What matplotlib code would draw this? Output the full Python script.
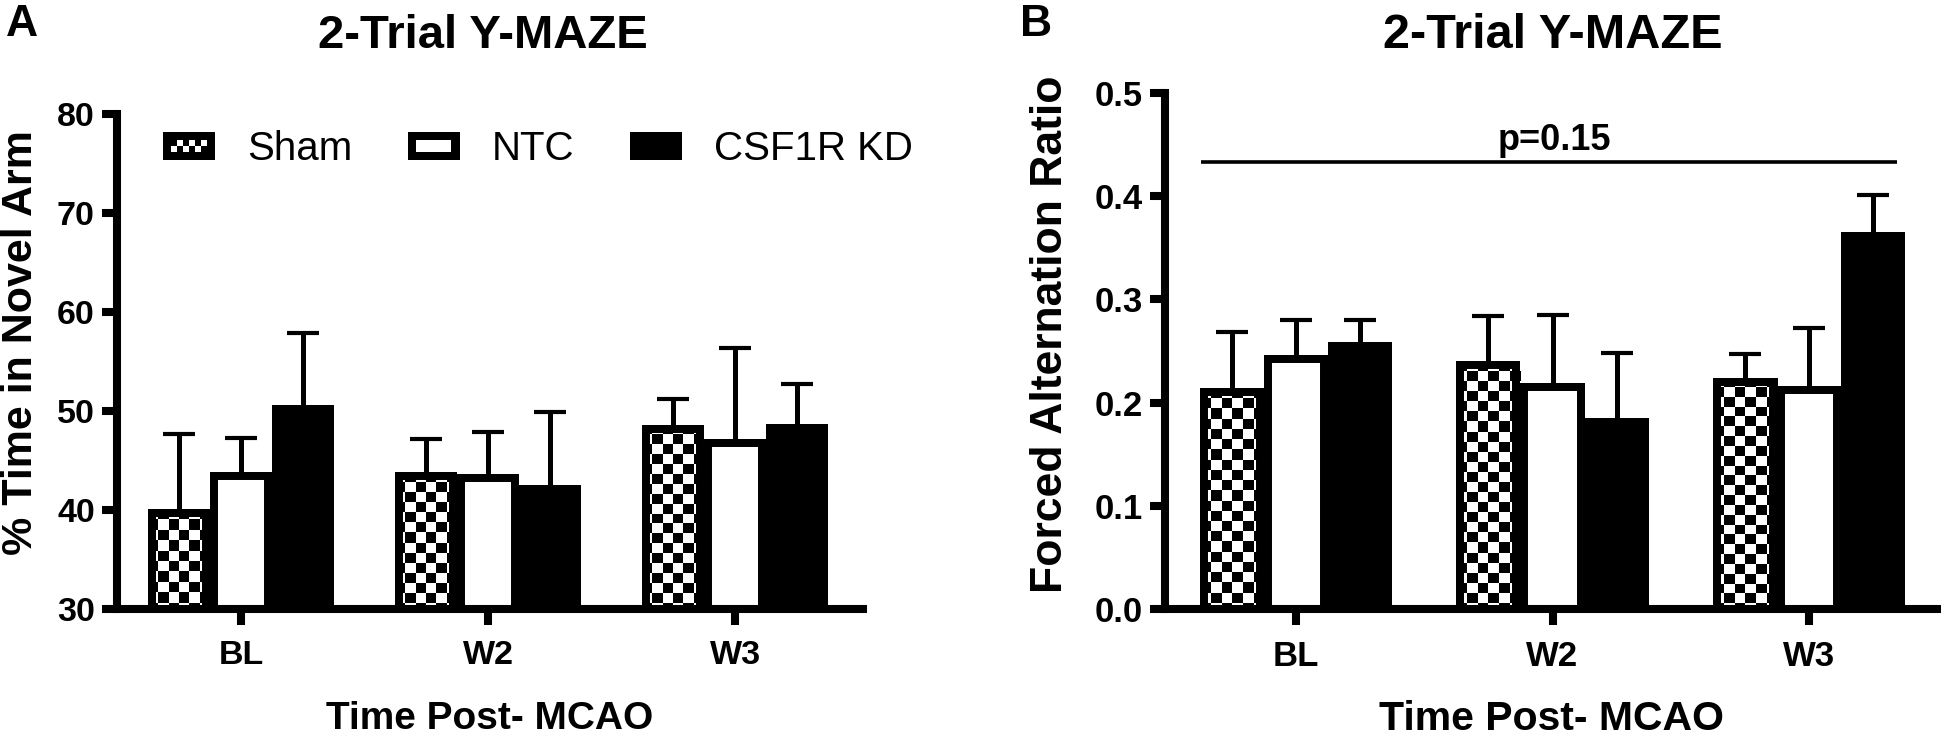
import numpy as np
import matplotlib
matplotlib.use('Agg')
import matplotlib.pyplot as plt
from matplotlib.patches import Rectangle, Patch
from matplotlib.legend_handler import HandlerBase

plt.rcParams['font.family'] = ['Liberation Sans', 'DejaVu Sans']

# ---------------- data ----------------
categories = ['BL', 'W2', 'W3']
groups = ['Sham', 'NTC', 'CSF1R KD']

a_sham = [40.1, 43.8, 48.6]
a_sham_err = [7.6, 3.4, 2.6]
a_ntc = [43.8, 43.6, 47.2]
a_ntc_err = [3.5, 4.25, 9.2]
a_csf = [50.6, 42.5, 48.7]
a_csf_err = [7.3, 7.4, 4.0]

b_sham = [0.214, 0.240, 0.224]
b_sham_err = [0.054, 0.044, 0.023]
b_ntc = [0.246, 0.219, 0.216]
b_ntc_err = [0.034, 0.066, 0.056]
b_csf = [0.259, 0.185, 0.365]
b_csf_err = [0.021, 0.063, 0.036]

a_yticks = [30, 40, 50, 60, 70, 80]
b_yticks = [0.0, 0.1, 0.2, 0.3, 0.4, 0.5]
b_pvalue_text = 'p=0.15'
b_pvalue_y = 0.433

# ---------------- layout helpers ----------------
W, H = 1941, 735
fig = plt.figure(figsize=(W / 100, H / 100), dpi=100)


def rect(l, t, r, b):
    return [l / W, 1 - b / H, (r - l) / W, (b - t) / H]


axA = fig.add_axes(rect(117, 114, 863, 609))
axB = fig.add_axes(rect(1165, 93, 1938, 609))

BW = 0.25
xs = np.arange(len(categories))


def style_axes(ax, xlim, ylim, yticks, fmt, fs):
    ax.set_xlim(*xlim)
    ax.set_ylim(*ylim)
    for s in ['top', 'right']:
        ax.spines[s].set_visible(False)
    for s in ['left', 'bottom']:
        ax.spines[s].set_linewidth(5.8)
        ax.spines[s].set_zorder(6)
        ax.spines[s].set_capstyle('projecting')
    ax.set_xticks(xs)
    ax.set_xticklabels(categories, fontsize=fs, fontweight='bold')
    ax.set_yticks(yticks)
    ax.set_yticklabels([fmt.format(v) for v in yticks], fontsize=fs, fontweight='bold')
    ax.tick_params(axis='y', direction='out', length=11, width=5.8, pad=5)
    ax.tick_params(axis='x', direction='out', length=11.5, width=5.8, pad=11)
    ax.patch.set_visible(False)


style_axes(axA, (-0.502, 2.518), (30, 80), a_yticks, '{:d}', 24.5)
style_axes(axB, (-0.511, 2.503), (0, 0.5), b_yticks, '{:.1f}', 25)


def draw_series(ax, xpos, vals, errs, kind):
    y0 = ax.get_ylim()[0]
    p0 = ax.transData.transform((0, 0))
    p1 = ax.transData.transform((1, 1))
    ppx, ppy = p1 - p0
    ext = 4 / ppy
    base = y0 - ext
    heights = np.asarray(vals) - base
    face = 'black' if kind == 'csf' else 'white'
    faces = ax.bar(xpos, heights, BW, bottom=base, color=face,
                   edgecolor='none', zorder=2)
    if kind == 'sham':
        for r, v in zip(faces.patches, vals):
            x0 = r.get_x()
            nx = max(1, int(round(BW * ppx / 10)))
            ny = max(1, int(round((v - base) * ppy / 10)))
            arr = np.indices((ny, nx)).sum(axis=0) % 2
            im = ax.imshow(arr, cmap='gray', vmin=0, vmax=1,
                           extent=(x0, x0 + BW, base, v), origin='lower',
                           interpolation='nearest', aspect='auto', zorder=2.5)
            im.set_clip_path(r)
    edges = ax.bar(xpos, heights, BW, bottom=base, fill=False,
                   edgecolor='black', linewidth=11.5, zorder=4)
    for p in edges.patches:
        p.set_clip_path(p)
    _, caps, _ = ax.errorbar(xpos, vals, yerr=[np.zeros(len(vals)), errs],
                             fmt='none', ecolor='black', elinewidth=3.6,
                             capsize=11.2, capthick=3, zorder=3)
    # one-sided (upper) error bars: hide the cap at the bar top
    if len(caps) == 2:
        caps[0].set_visible(False)


offsets = [-BW, 0, BW]
for ax, series in [
    (axA, [(a_sham, a_sham_err, 'sham'), (a_ntc, a_ntc_err, 'ntc'), (a_csf, a_csf_err, 'csf')]),
    (axB, [(b_sham, b_sham_err, 'sham'), (b_ntc, b_ntc_err, 'ntc'), (b_csf, b_csf_err, 'csf')]),
]:
    for off, (v, e, k) in zip(offsets, series):
        draw_series(ax, xs + off, v, e, k)

axA.set_xlim(-0.502, 2.518); axA.set_ylim(30, 80)
axB.set_xlim(-0.511, 2.503); axB.set_ylim(0, 0.5)

# p-value line on panel B
pl_left = xs[0] - 1.5 * BW + 0.005
pl_right = xs[-1] + 1.5 * BW - 0.03
axB.plot([pl_left, pl_right], [b_pvalue_y, b_pvalue_y], color='black',
         lw=2.6, solid_capstyle='butt', zorder=5)
axB.annotate(b_pvalue_text, xy=((pl_left + pl_right) / 2 + 0.02, b_pvalue_y),
             xytext=(0, 9), textcoords='offset points', ha='center',
             va='baseline', fontsize=26, fontweight='bold')

# axis labels
axA.set_ylabel('% Time in Novel Arm', fontsize=31, fontweight='bold')
axA.yaxis.set_label_coords(-0.102, 0.538)
axB.set_ylabel('Forced Alternation Ratio', fontsize=32, fontweight='bold')
axB.yaxis.set_label_coords(-0.1216, 0.533)
axA.set_xlabel('Time Post- MCAO', fontsize=28, fontweight='bold')
axA.xaxis.set_label_coords(0.5, -(701 - 609) / 495)
axB.set_xlabel('Time Post- MCAO', fontsize=29.5, fontweight='bold')
axB.xaxis.set_label_coords(0.5, -(700 - 609) / 516)

# titles and panel letters
fig.text(483 / W, 1 - 48 / H, '2-Trial Y-MAZE', ha='center', va='baseline',
         fontsize=34, fontweight='bold')
fig.text(1553 / W, 1 - 48 / H, '2-Trial Y-MAZE', ha='center', va='baseline',
         fontsize=35, fontweight='bold')
fig.text(6 / W, 1 - 36 / H, 'A', ha='left', va='baseline', fontsize=32,
         fontweight='bold')
fig.text(1020 / W, 1 - 36 / H, 'B', ha='left', va='baseline', fontsize=32,
         fontweight='bold')


# legend
class BoxHandler(HandlerBase):
    def __init__(self, kind):
        super().__init__()
        self.kind = kind

    def create_artists(self, legend, orig_handle, xdescent, ydescent,
                       width, height, fontsize, trans):
        x0, y0 = -xdescent, -ydescent
        arts = [Rectangle((x0, y0), width, height, facecolor='black',
                          edgecolor='none', transform=trans)]
        b = 0.3 * height
        if self.kind == 'ntc':
            arts.append(Rectangle((x0 + b, y0 + b), width - 2 * b, height - 2 * b,
                                  facecolor='white', edgecolor='none',
                                  transform=trans))
        elif self.kind == 'sham':
            iw, ih = width - 2 * b, height - 2 * b
            nc, nr = 6, 2
            cw, ch = iw / nc, ih / nr
            for i in range(nr):
                for j in range(nc):
                    if (i + j) % 2 == 0:
                        arts.append(Rectangle((x0 + b + j * cw, y0 + b + i * ch),
                                              cw, ch, facecolor='white',
                                              edgecolor='none', transform=trans))
        return arts


handles = [Patch(label=g) for g in groups]
hmap = {handles[0]: BoxHandler('sham'), handles[1]: BoxHandler('ntc'),
        handles[2]: BoxHandler('csf')}
axA.legend(handles, groups, handler_map=hmap, ncol=3, frameon=False,
           prop={'size': 29}, handlelength=1.29, handleheight=0.7,
           handletextpad=0.8, columnspacing=1.37, borderpad=0,
           borderaxespad=0, loc='upper left',
           bbox_to_anchor=(163 / W, 1 - 130 / H), bbox_transform=fig.transFigure)

fig.savefig('out.png', dpi=100)
